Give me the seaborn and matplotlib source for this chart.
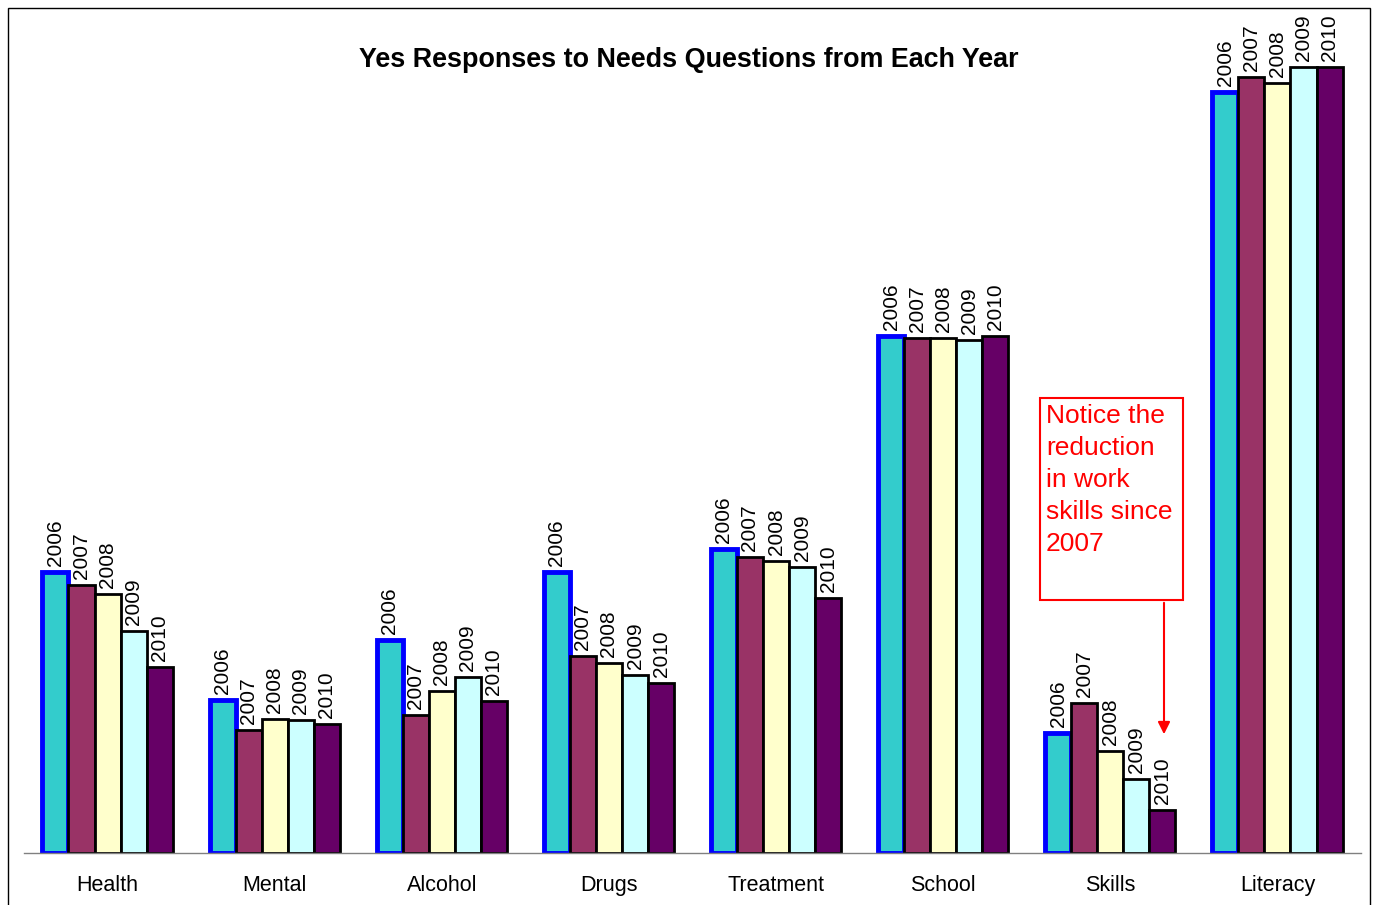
import matplotlib
matplotlib.use("Agg")
import matplotlib.pyplot as plt
from matplotlib.patches import Rectangle
import seaborn as sns
import pandas as pd

categories = ["Health", "Mental", "Alcohol", "Drugs", "Treatment", "School", "Skills", "Literacy"]
years = ["2006", "2007", "2008", "2009", "2010"]

# yes responses per year
y2006 = [281, 153, 213, 281, 304, 517, 120, 761]
y2007 = [268, 123, 138, 197, 296, 515, 150, 776]
y2008 = [259, 134, 162, 190, 292, 515, 102, 770]
y2009 = [222, 133, 176, 178, 286, 513, 74, 786]
y2010 = [186, 129, 152, 170, 255, 517, 43, 786]

colors = ["#33CCCC", "#993366", "#FFFFCC", "#CCFFFF", "#660066"]

rows = []
for yr, vals in zip(years, [y2006, y2007, y2008, y2009, y2010]):
    for cat, v in zip(categories, vals):
        rows.append({"category": cat, "year": yr, "value": v})
df = pd.DataFrame(rows)

sns.set_style("white")
plt.rcParams['font.family'] = ['Liberation Sans', 'DejaVu Sans']
plt.rcParams['text.color'] = 'black'
plt.rcParams['xtick.color'] = 'black'

fig = plt.figure(figsize=(13.77, 9.05), dpi=100)
ax = fig.add_axes([24 / 1377, 1 - 853 / 905, 1337 / 1377, 833 / 905])

sns.barplot(data=df, x="category", y="value", hue="year", order=categories,
            hue_order=years, palette=colors, edgecolor="black", linewidth=2,
            width=0.78, saturation=1, ax=ax, legend=False)

# 2006 bars get the thick blue outline
for bar in ax.containers[0]:
    bar.set_edgecolor("#0000FF")
    bar.set_linewidth(3.5)

for yr, cont in zip(years, ax.containers):
    ax.bar_label(cont, labels=[yr] * len(cont), rotation=90, padding=4,
                 fontsize=15, color="black")

ax.set_xlim(-0.5, len(categories) - 0.5)
ax.set_ylim(0, 833)
ax.set_xlabel("")
ax.set_ylabel("")
ax.set_yticks([])
for s in ["top", "right", "left"]:
    ax.spines[s].set_visible(False)
ax.spines["bottom"].set_color("#808080")
ax.spines["bottom"].set_linewidth(1)

ax.set_xticks(range(len(categories)))
ax.set_xticklabels(categories, fontsize=15.5, color="black")
ax.tick_params(axis="x", which="major", length=0, pad=16)
ax.set_xticks([i - 0.5 for i in range(len(categories) + 1)], minor=True)
ax.tick_params(axis="x", which="minor", length=6, color="#808080", direction="out")

fig.text(0.5, 1 - 60 / 905, "Yes Responses to Needs Questions from Each Year",
         ha="center", va="center", fontsize=19.4, fontweight="bold", color="black")

# note box with arrow toward the skills bars
fig.text(1046 / 1377, 1 - 404 / 905,
         "Notice the\nreduction\nin work\nskills since\n2007",
         ha="left", va="top", color="red", fontsize=19, linespacing=1.42)
fig.patches.append(Rectangle((1040 / 1377, 1 - 600 / 905), 143 / 1377, 202 / 905,
                             transform=fig.transFigure, fill=False,
                             edgecolor="red", linewidth=1.5))
ax.annotate("", xy=(1164 / 1377, 1 - 737 / 905), xytext=(1164 / 1377, 1 - 600 / 905),
            xycoords="figure fraction", textcoords="figure fraction",
            arrowprops=dict(arrowstyle="-|>", color="red", lw=1.5, mutation_scale=18))

# outer chart frame
fig.patches.append(Rectangle((8 / 1377, -0.05), 1362 / 1377, 1 - 8 / 905 + 0.05,
                             transform=fig.transFigure, fill=False,
                             edgecolor="black", linewidth=1))

fig.savefig("out.png", dpi=100)
